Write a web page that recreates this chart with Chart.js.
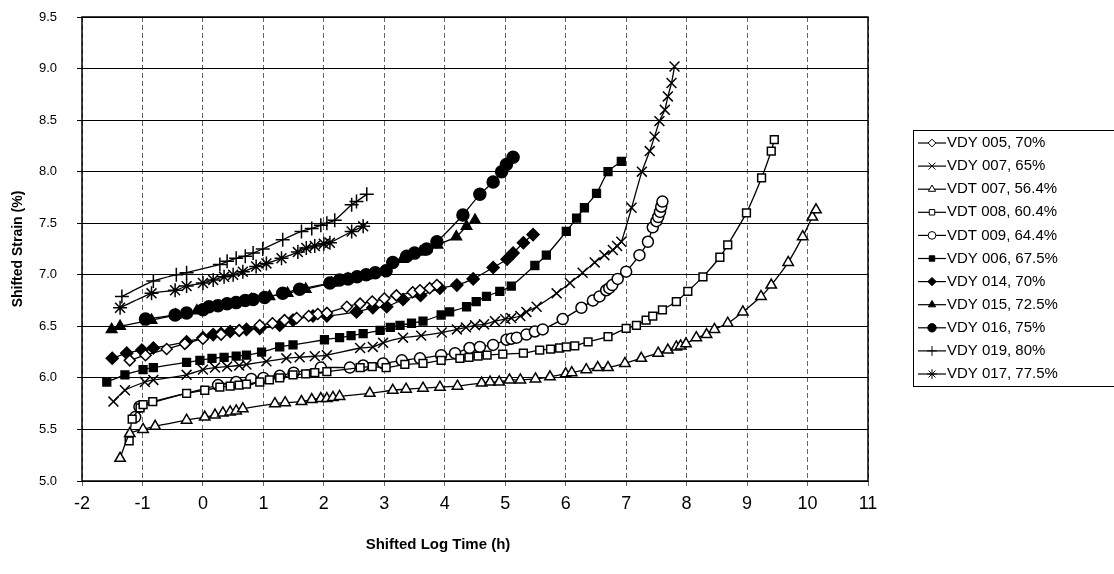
<!DOCTYPE html>
<html>
<head>
<meta charset="utf-8">
<script src="https://cdn.jsdelivr.net/npm/chart.js@4.4.1/dist/chart.umd.min.js"></script>
<style>
  html, body { margin: 0; padding: 0; background: #fff; }
  #wrap { width: 1114px; height: 574px; }
</style>
</head>
<body>
<div id="wrap"><canvas id="creepChart" width="1114" height="574"></canvas></div>
<script>
// Shifted strain vs shifted log time, one curve per specimen

const seriesLabels = [
    'VDY 005, 70%', 'VDY 007, 65%', 'VDT 007, 56.4%', 'VDT 008, 60.4%',
    'VDT 009, 64.4%', 'VDY 006, 67.5%', 'VDY 014, 70%', 'VDY 015, 72.5%',
    'VDY 016, 75%', 'VDY 019, 80%', 'VDY 017, 77.5%'
];

const xTicks = [-2, -1, 0, 1, 2, 3, 4, 5, 6, 7, 8, 9, 10, 11];
const yTicks = [5.0, 5.5, 6.0, 6.5, 7.0, 7.5, 8.0, 8.5, 9.0, 9.5];

// [log time, strain]
const vdy005 = [[-1.21,6.17],[-0.95,6.22],[-0.6,6.28],[-0.3,6.33],[0.0,6.38],[0.3,6.42],[0.6,6.46],[0.94,6.51],[1.15,6.53],[1.35,6.56],[1.55,6.58],[1.75,6.6],[1.9,6.62],[2.05,6.63],[2.38,6.69],[2.6,6.72],[2.8,6.74],[3.0,6.77],[3.2,6.8],[3.47,6.83],[3.59,6.85],[3.75,6.87],[3.87,6.9]];
const vdy007 = [[-1.48,5.77],[-1.29,5.88],[-0.96,5.96],[-0.82,5.98],[-0.27,6.03],[0,6.08],[0.2,6.1],[0.4,6.11],[0.6,6.12],[0.72,6.13],[1.05,6.16],[1.38,6.19],[1.6,6.2],[1.85,6.21],[2.05,6.22],[2.6,6.29],[2.81,6.3],[2.98,6.34],[3.31,6.39],[3.61,6.41],[3.95,6.44],[4.2,6.47],[4.35,6.49],[4.5,6.51],[4.65,6.52],[4.83,6.55],[5.0,6.57],[5.1,6.58],[5.25,6.6],[5.35,6.64],[5.52,6.69],[5.85,6.82],[6.07,6.92],[6.28,7.02],[6.48,7.12],[6.64,7.19],[6.78,7.24],[6.85,7.28],[6.92,7.32],[7.09,7.65],[7.26,8.0],[7.39,8.2],[7.47,8.34],[7.55,8.49],[7.64,8.6],[7.69,8.73],[7.75,8.86],[7.8,9.02]];
const vdt007 = [[-1.37,5.22],[-1.21,5.46],[-0.99,5.5],[-0.79,5.53],[-0.27,5.59],[0.03,5.62],[0.2,5.64],[0.33,5.66],[0.45,5.67],[0.55,5.68],[0.66,5.7],[1.19,5.75],[1.36,5.76],[1.63,5.77],[1.8,5.79],[1.95,5.8],[2.05,5.8],[2.15,5.81],[2.26,5.82],[2.76,5.85],[3.14,5.88],[3.36,5.89],[3.64,5.9],[3.92,5.91],[4.21,5.92],[4.61,5.95],[4.75,5.96],[4.9,5.96],[5.07,5.98],[5.25,5.98],[5.5,5.99],[5.74,6.01],[6.0,6.04],[6.1,6.05],[6.34,6.08],[6.53,6.1],[6.7,6.1],[6.98,6.14],[7.25,6.19],[7.53,6.24],[7.69,6.27],[7.83,6.3],[7.9,6.31],[7.99,6.33],[8.16,6.39],[8.33,6.42],[8.46,6.47],[8.68,6.53],[8.93,6.64],[9.23,6.79],[9.4,6.9],[9.68,7.12],[9.92,7.37],[10.08,7.56],[10.14,7.63]];
const vdt008 = [[-1.22,5.39],[-1.17,5.6],[-1.04,5.71],[-0.99,5.74],[-0.83,5.77],[-0.27,5.85],[0.03,5.88],[0.28,5.91],[0.45,5.92],[0.6,5.93],[0.72,5.94],[0.94,5.96],[1.1,5.98],[1.27,6.0],[1.49,6.03],[1.7,6.04],[1.85,6.05],[2.05,6.06],[2.6,6.1],[2.8,6.11],[3.03,6.1],[3.34,6.13],[3.64,6.14],[3.94,6.17],[4.25,6.19],[4.4,6.2],[4.55,6.21],[4.7,6.22],[4.96,6.23],[5.3,6.24],[5.57,6.27],[5.75,6.28],[5.9,6.29],[6.01,6.3],[6.15,6.31],[6.37,6.35],[6.7,6.4],[7.0,6.48],[7.17,6.51],[7.33,6.56],[7.44,6.6],[7.6,6.66],[7.83,6.74],[8.02,6.84],[8.27,6.98],[8.55,7.17],[8.68,7.29],[8.99,7.6],[9.24,7.94],[9.4,8.2],[9.45,8.31]];
const vdt009 = [[-1.12,5.62],[-1.05,5.72],[0.25,5.93],[0.55,5.96],[0.8,5.99],[1.0,6.0],[1.27,6.02],[1.5,6.05],[1.95,6.1],[2.43,6.1],[2.65,6.12],[2.98,6.14],[3.29,6.17],[3.59,6.19],[3.94,6.22],[4.17,6.24],[4.41,6.29],[4.58,6.3],[4.8,6.32],[5.02,6.37],[5.1,6.38],[5.19,6.39],[5.35,6.42],[5.49,6.45],[5.62,6.47],[5.95,6.57],[6.26,6.68],[6.45,6.75],[6.56,6.79],[6.67,6.85],[6.72,6.87],[6.77,6.9],[6.86,6.96],[7.0,7.03],[7.22,7.19],[7.36,7.32],[7.44,7.46],[7.5,7.52],[7.53,7.56],[7.56,7.61],[7.58,7.66],[7.6,7.71]];
const vdy006 = [[-1.59,5.96],[-1.29,6.03],[-0.99,6.08],[-0.82,6.1],[-0.27,6.15],[-0.05,6.17],[0.15,6.19],[0.35,6.2],[0.55,6.21],[0.72,6.22],[0.97,6.25],[1.27,6.3],[1.49,6.32],[2.01,6.37],[2.26,6.39],[2.45,6.41],[2.65,6.43],[2.93,6.46],[3.1,6.49],[3.26,6.51],[3.45,6.53],[3.64,6.55],[3.94,6.61],[4.08,6.64],[4.36,6.69],[4.52,6.74],[4.69,6.79],[4.91,6.84],[5.1,6.89],[5.49,7.09],[5.68,7.19],[6.01,7.42],[6.18,7.55],[6.31,7.65],[6.51,7.79],[6.7,8.0],[6.92,8.1]];
const vdy014 = [[-1.5,6.19],[-1.26,6.24],[-1.01,6.27],[-0.82,6.29],[-0.27,6.35],[0,6.39],[0.17,6.42],[0.3,6.43],[0.45,6.45],[0.6,6.46],[0.72,6.47],[0.94,6.48],[1.27,6.51],[1.49,6.56],[1.82,6.6],[2.05,6.6],[2.54,6.64],[2.81,6.68],[3.04,6.69],[3.31,6.76],[3.6,6.8],[3.92,6.87],[4.2,6.9],[4.47,6.96],[4.8,7.07],[5.03,7.15],[5.13,7.21],[5.3,7.31],[5.46,7.39]];
const vdy015 = [[-1.51,6.47],[-1.37,6.5],[-0.85,6.56],[-0.45,6.61],[-0.1,6.65],[0.2,6.69],[0.5,6.72],[0.8,6.76],[1.1,6.79],[1.4,6.82],[1.7,6.86],[2.13,6.92],[2.4,6.96],[2.7,6.99],[3.0,7.03],[3.3,7.15],[3.6,7.22],[3.88,7.29],[4.19,7.37],[4.36,7.47],[4.5,7.53]];
const vdy016 = [[-0.95,6.57],[-0.46,6.61],[-0.27,6.63],[0,6.66],[0.1,6.69],[0.25,6.7],[0.4,6.72],[0.55,6.73],[0.7,6.75],[0.83,6.76],[1.02,6.78],[1.32,6.82],[1.6,6.86],[2.1,6.92],[2.26,6.95],[2.4,6.96],[2.55,6.98],[2.7,7.0],[2.85,7.02],[3.03,7.04],[3.14,7.12],[3.37,7.18],[3.5,7.21],[3.7,7.25],[3.87,7.32],[4.3,7.58],[4.58,7.78],[4.8,7.9],[4.94,8.0],[5.02,8.07],[5.13,8.14]];
const vdy019 = [[-1.34,6.79],[-0.82,6.94],[-0.44,7.0],[-0.27,7.02],[0.28,7.1],[0.4,7.13],[0.55,7.16],[0.7,7.18],[0.83,7.21],[0.99,7.25],[1.32,7.34],[1.63,7.42],[1.8,7.45],[1.95,7.48],[2.05,7.5],[2.18,7.53],[2.46,7.68],[2.54,7.71],[2.71,7.78]];
const vdy017 = [[-1.37,6.68],[-0.85,6.82],[-0.46,6.85],[-0.27,6.89],[0,6.92],[0.17,6.95],[0.35,6.98],[0.5,7.0],[0.66,7.03],[0.88,7.08],[1.05,7.11],[1.3,7.16],[1.57,7.22],[1.71,7.26],[1.85,7.28],[2.0,7.3],[2.1,7.31],[2.46,7.42],[2.65,7.47]];

const seriesData = [vdy005, vdy007, vdt007, vdt008, vdt009, vdy006, vdy014, vdy015, vdy016, vdy019, vdy017];

// marker look per series (same order as labels)
const markers = [
    { style: 'rectRot',  r: 5.5, fill: '#fff' },
    { style: 'crossRot', r: 7,   fill: '#000' },
    { style: 'triangle', r: 6,   fill: '#fff' },
    { style: 'rect',     r: 5.5, fill: '#fff' },
    { style: 'circle',   r: 5.5, fill: '#fff' },
    { style: 'rect',     r: 5.5, fill: '#000' },
    { style: 'rectRot',  r: 6,   fill: '#000' },
    { style: 'triangle', r: 6,   fill: '#000' },
    { style: 'circle',   r: 6,   fill: '#000' },
    { style: 'cross',    r: 7,   fill: '#000' },
    { style: 'star',     r: 7,   fill: '#000' },
];

const FONT = "'Liberation Sans', Arial, sans-serif";

const plotFrame = {
    id: 'plotFrame',
    afterDatasetsDraw(chart) {
        const { ctx, chartArea: a } = chart;
        ctx.save();
        ctx.strokeStyle = '#000';
        ctx.lineWidth = 1.5;
        ctx.strokeRect(a.left, a.top, a.right - a.left, a.bottom - a.top);
        ctx.restore();
    }
};

const xTitle = {
    id: 'xTitle',
    afterDraw(chart) {
        const ctx = chart.ctx;
        ctx.save();
        ctx.fillStyle = '#000';
        ctx.font = 'bold 15px ' + FONT;
        ctx.textAlign = 'center';
        ctx.textBaseline = 'middle';
        ctx.fillText('Shifted Log Time (h)', 438, 545);
        ctx.restore();
    }
};

const legendBox = {
    id: 'legendBox',
    afterDraw(chart) {
        const ctx = chart.ctx;
        ctx.save();
        ctx.strokeStyle = '#000';
        ctx.lineWidth = 1;
        ctx.strokeRect(913.5, 130.5, 230, 256);
        ctx.font = '15px ' + FONT;
        ctx.textBaseline = 'middle';
        chart.data.datasets.forEach((ds, i) => {
            const y = 143 + i * 23.1;
            ctx.strokeStyle = '#000';
            ctx.lineWidth = 1.2;
            ctx.beginPath();
            ctx.moveTo(918, y);
            ctx.lineTo(946, y);
            ctx.stroke();
            if (Chart.helpers && Chart.helpers.drawPoint) {
                ctx.fillStyle = ds.pointBackgroundColor;
                ctx.lineWidth = 1;
                Chart.helpers.drawPoint(ctx, {
                    pointStyle: ds.pointStyle,
                    radius: ds.pointRadius * 0.7,
                    rotation: 0,
                    borderWidth: 1
                }, 932, y);
            }
            ctx.fillStyle = '#000';
            ctx.fillText(ds.label, 947, y);
        });
        ctx.restore();
    }
};

new Chart(document.getElementById('creepChart'), {
    type: 'line',
    data: {
        datasets: seriesData.map((pts, i) => ({
            label: seriesLabels[i],
            data: pts.map(([x, y]) => ({ x, y })),
            borderColor: '#000',
            borderWidth: 1.3,
            tension: 0.2,
            pointStyle: markers[i].style,
            pointRadius: markers[i].r,
            pointBackgroundColor: markers[i].fill,
            pointBorderColor: '#000',
            pointBorderWidth: 1.5,
            fill: false,
        }))
    },
    options: {
        responsive: false,
        animation: false,
        devicePixelRatio: 1,
        layout: { padding: { left: 0, right: 246, top: 17, bottom: 0 } },
        plugins: {
            legend: { display: false },
            tooltip: { enabled: false }
        },
        scales: {
            x: {
                type: 'linear',
                min: xTicks[0],
                max: xTicks[xTicks.length - 1],
                afterBuildTicks: s => { s.ticks = xTicks.map(v => ({ value: v })); },
                afterFit: s => { s.height = 93; },
                grid: { color: '#666', lineWidth: 1, tickLength: 5 },
                border: { display: false, dash: [5, 3] },
                ticks: {
                    color: '#000',
                    padding: 7,
                    maxRotation: 0,
                    font: { family: FONT, size: 18 },
                    callback: v => String(v)
                }
            },
            y: {
                min: yTicks[0],
                max: yTicks[yTicks.length - 1],
                afterBuildTicks: s => { s.ticks = yTicks.map(v => ({ value: v })); },
                afterFit: s => { s.width = 82; s.paddingTop = 7; s.paddingBottom = 7; },
                grid: { color: '#000', lineWidth: 1, tickLength: 5 },
                border: { display: false },
                ticks: {
                    color: '#000',
                    padding: 20,
                    font: { family: FONT, size: 13 },
                    callback: v => Number(v).toFixed(1)
                },
                title: {
                    display: true,
                    text: 'Shifted Strain (%)',
                    color: '#000',
                    padding: { top: 10, bottom: 0 },
                    font: { family: FONT, size: 14, weight: 'bold' }
                }
            }
        }
    },
    plugins: [plotFrame, xTitle, legendBox]
});
</script>
</body>
</html>
